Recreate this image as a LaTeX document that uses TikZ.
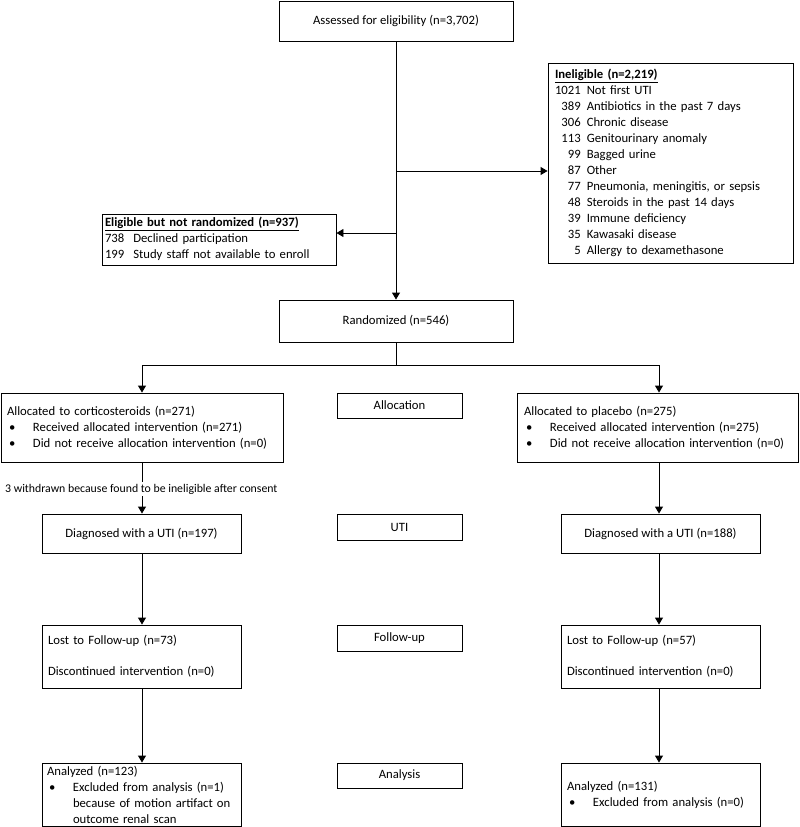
\documentclass[tikz,border=0pt]{standalone}
\usepackage{fontspec}
\setmainfont{Carlito}
\usetikzlibrary{arrows.meta}
\newcommand\bul{\hspace*{2pt}\makebox[24pt][l]{•}}
\newcommand\ind{\hspace*{26pt}}
\begin{document}
\begin{tikzpicture}[x=1pt,y=-1pt,
  box/.style={draw, line width=0.9pt, rectangle, inner ysep=0pt, inner xsep=6pt, align=left,
    font=\fontsize{12.7}{16}\selectfont},
  cbox/.style={draw, line width=0.9pt, rectangle, inner sep=0pt, align=center,
    font=\fontsize{12.7}{16}\selectfont},
  ln/.style={line width=0.9pt},
  arr/.style={line width=0.9pt, -{Triangle[length=7pt,width=8pt]}}]
\path[use as bounding box, fill=white] (0,0) rectangle (800,827);

% nodes
\node[cbox, minimum width=234pt, minimum height=40pt] (assess) at (396,21) {Assessed for eligibility (n=3,702)};
\node[box, inner xsep=7pt, text width=231pt, minimum height=200pt] (inel) at (670.5,163) {%
\begin{tabular}{@{}r@{\hspace{6pt}}l@{}}
\multicolumn{2}{@{}l}{\underline{\textbf{Ineligible (n=2,219)}}}\\
1021 & Not first UTI\\
389 & Antibiotics in the past 7 days\\
306 & Chronic disease\\
113 & Genitourinary anomaly\\
99 & Bagged urine\\
87 & Other\\
77 & Pneumonia, meningitis, or sepsis\\
48 & Steroids in the past 14 days\\
39 & Immune deficiency\\
35 & Kawasaki disease\\
5 & Allergy to dexamethasone
\end{tabular}};
\node[box, inner xsep=3pt, text width=228pt, minimum height=51pt] (elig) at (219,239.5) {%
\begin{tabular}{@{}l@{\hspace{9pt}}l@{}}
\multicolumn{2}{@{}l}{\underline{\textbf{Eligible but not randomized (n=937)}}}\\
738 & Declined participation\\
199 & Study staff not available to enroll
\end{tabular}};
\node[cbox, minimum width=234pt, minimum height=42pt] (rand) at (396,321) {Randomized (n=546)};

\node[box, text width=270pt, minimum height=69pt] (lalloc) at (142,427.5) {\mbox{Allocated to corticosteroids (n=271)}\\
\mbox{\bul Received allocated intervention (n=271)}\\
\mbox{\bul Did not receive allocation intervention (n=0)}};
\node[cbox, minimum width=125pt, minimum height=25pt] (alab) at (399.5,405.5) {Allocation};
\node[box, inner xsep=7pt, text width=267pt, minimum height=69pt] (ralloc) at (657.5,427.5) {\mbox{Allocated to placebo (n=275)}\\
\mbox{\bul Received allocated intervention (n=275)}\\
\mbox{\bul Did not receive allocation intervention (n=0)}};

\node[cbox, minimum width=199pt, minimum height=39pt] (luti) at (141.5,533.5) {Diagnosed with a UTI (n=197)};
\node[cbox, minimum width=125pt, minimum height=26pt] (ulab) at (399.5,527) {UTI};
\node[cbox, minimum width=199pt, minimum height=39pt] (ruti) at (660.5,533.5) {Diagnosed with a UTI (n=188)};

\node[box, text width=187pt, minimum height=63pt] (lfu) at (141.5,656.5) {Lost to Follow-up (n=73)\\[15pt]Discontinued intervention (n=0)};
\node[cbox, minimum width=125pt, minimum height=26pt] (flab) at (399.5,638) {Follow-up};
\node[box, text width=187pt, minimum height=63pt] (rfu) at (660.5,656.5) {Lost to Follow-up (n=57)\\[15pt]Discontinued intervention (n=0)};

\node[box, inner xsep=5pt, text width=189pt, minimum height=63pt] (lan) at (141.5,794.5) {\mbox{Analyzed (n=123)}\\
\mbox{\bul Excluded from analysis (n=1)}\\
\mbox{\ind because of motion artifact on}\\
\mbox{\ind outcome renal scan}};
\node[cbox, minimum width=125pt, minimum height=25pt] (anlab) at (399.5,775.5) {Analysis};
\node[box, text width=187pt, minimum height=63pt] (ran) at (660.5,794.5) {\mbox{Analyzed (n=131)}\\
\mbox{\bul Excluded from analysis (n=0)}};

% connectors
\coordinate (b1) at (396,171);
\coordinate (b2) at (396,233);
\draw[arr] (assess.south) -- (rand.north);
\draw[arr] (b1) -- (b1 -| inel.west);
\draw[arr] (b2) -- (b2 -| elig.east);

\coordinate (split) at (396,365);
\coordinate (jl) at (142,365);
\coordinate (jr) at (659,365);
\draw[ln] (rand.south) -- (split);
\draw[ln] (jl) -- (jr);
\draw[arr] (jl) -- (jl |- lalloc.north);
\draw[arr] (jr) -- (jr |- ralloc.north);

\draw[arr] (jl |- lalloc.south) -- (jl |- luti.north);
\node[fill=white, inner xsep=0pt, inner ysep=1.5pt, anchor=west, font=\fontsize{11.8}{14}\selectfont] (wd) at (5,489) {3 withdrawn because found to be ineligible after consent};
\draw[arr] (jr |- ralloc.south) -- (jr |- ruti.north);

\draw[arr] (jl |- luti.south) -- (jl |- lfu.north);
\draw[arr] (jr |- ruti.south) -- (jr |- rfu.north);
\draw[arr] (jl |- lfu.south) -- (jl |- lan.north);
\draw[arr] (jr |- rfu.south) -- (jr |- ran.north);
\end{tikzpicture}
\end{document}
